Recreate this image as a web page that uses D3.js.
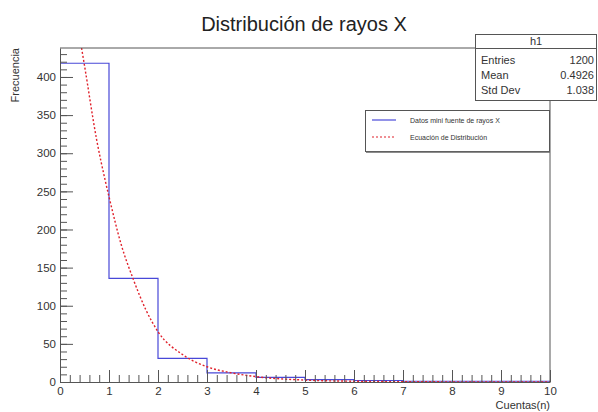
<!DOCTYPE html>
<html>
<head>
<meta charset="utf-8">
<script src="https://cdn.jsdelivr.net/npm/d3@7"></script>
<style>
  body { margin: 0; background: #fff; }
  svg { display: block; font-family: "Liberation Sans", Arial, sans-serif; }
</style>
</head>
<body>
<div id="chart"></div>
<script>
// Histogram bins (lower edges) and counts
const binEdges = [0, 1, 2, 3, 4, 5, 6, 7, 8, 9, 10];
const binCounts = [418, 136, 31, 12, 6, 3, 2, 1, 1, 1];

// Fitted distribution, points
const curveX = [0.44, 0.5, 0.75, 0.92, 1, 1.25, 1.5, 1.75, 2, 2.5, 3, 3.5, 4, 5, 6, 7, 8, 9, 10];
const curveY = [438, 415, 317, 265, 243, 180, 134, 95, 66, 36, 20, 12, 7, 2.5, 1, 0.4, 0.2, 0.1, 0.05];

// Tick values
const yMajor = [0, 50, 100, 150, 200, 250, 300, 350, 400];
const xMajor = [0, 1, 2, 3, 4, 5, 6, 7, 8, 9, 10];

// Stats box and legend text
const statsTitle = "h1";
const statsRows = [["Entries", "1200"], ["Mean", "0.4926"], ["Std Dev", "1.038"]];
const legendLabels = ["Datos mini fuente de rayos X", "Ecuación de Distribución"];

const W = 598, H = 412;
const frame = { left: 60, right: 550, top: 48, bottom: 382 };
const textCol = "#333";

const svg = d3.select("#chart").append("svg")
    .attr("width", W)
    .attr("height", H);

// Scales
const x = d3.scaleLinear().domain([0, 10]).range([frame.left, frame.right]);
const y = d3.scaleLinear().domain([0, 438]).range([frame.bottom, frame.top]);

// Clip to frame
svg.append("clipPath").attr("id", "clip")
    .append("rect")
    .attr("x", frame.left).attr("y", frame.top)
    .attr("width", frame.right - frame.left)
    .attr("height", frame.bottom - frame.top);

// Title
svg.append("text")
    .attr("x", 304).attr("y", 31)
    .attr("text-anchor", "middle")
    .attr("font-size", 20)
    .attr("fill", "#222")
    .text("Distribución de rayos X");

// Histogram outline
const histPts = [[binEdges[0], 0]];
binCounts.forEach((c, i) => {
    histPts.push([binEdges[i], c], [binEdges[i + 1], c]);
});
histPts.push([binEdges[binEdges.length - 1], 0]);

svg.append("path")
    .datum(histPts)
    .attr("clip-path", "url(#clip)")
    .attr("fill", "none")
    .attr("stroke", "#4848d8")
    .attr("stroke-width", 1.2)
    .attr("d", d3.line().x(d => x(d[0])).y(d => y(d[1])));

// Distribution curve
const curvePts = curveX.map((v, i) => [v, curveY[i]]);
svg.append("path")
    .datum(curvePts)
    .attr("clip-path", "url(#clip)")
    .attr("fill", "none")
    .attr("stroke", "#e0202a")
    .attr("stroke-width", 1.4)
    .attr("stroke-dasharray", "2,2")
    .attr("d", d3.line().curve(d3.curveMonotoneX).x(d => x(d[0])).y(d => y(d[1])));

// Frame (top and right)
svg.append("path")
    .attr("fill", "none")
    .attr("stroke", "#555")
    .attr("stroke-width", 1)
    .attr("d", `M${frame.left},${frame.top}H${frame.right}V${frame.bottom}`);

// Y axis: ticks point inward
const yAxis = svg.append("g")
    .attr("transform", `translate(${frame.left},0)`)
    .call(d3.axisLeft(y).tickValues(yMajor).tickSizeInner(-13).tickSizeOuter(0).tickPadding(4));
svg.append("g")
    .attr("transform", `translate(${frame.left},0)`)
    .call(d3.axisLeft(y).tickValues(d3.range(0, 438, 10)).tickSize(-7).tickFormat(""))
    .call(g => g.select(".domain").remove());

// X axis
const xAxis = svg.append("g")
    .attr("transform", `translate(0,${frame.bottom})`)
    .call(d3.axisBottom(x).tickValues(xMajor).tickSizeInner(-12).tickSizeOuter(0).tickPadding(5));
svg.append("g")
    .attr("transform", `translate(0,${frame.bottom})`)
    .call(d3.axisBottom(x).tickValues(d3.range(0, 10.01, 0.2)).tickSize(-7).tickFormat(""))
    .call(g => g.select(".domain").remove());

svg.selectAll(".tick line, .domain").attr("stroke", "#555");
svg.selectAll(".tick text")
    .attr("font-size", 11.5)
    .attr("font-family", "Liberation Sans, Arial, sans-serif")
    .attr("fill", textCol);

// Axis titles (ROOT style: right / top aligned)
svg.append("text")
    .attr("x", frame.right).attr("y", 409)
    .attr("text-anchor", "end")
    .attr("font-size", 11)
    .attr("fill", textCol)
    .text("Cuentas(n)");

svg.append("text")
    .attr("transform", `translate(19,${frame.top}) rotate(-90)`)
    .attr("text-anchor", "end")
    .attr("font-size", 11)
    .attr("fill", textCol)
    .text("Frecuencia");

// Stats box
const stats = svg.append("g");
stats.append("rect")
    .attr("x", 475.5).attr("y", 34.5)
    .attr("width", 121).attr("height", 66)
    .attr("fill", "#fff")
    .attr("stroke", "#555");
stats.append("line")
    .attr("x1", 475.5).attr("x2", 596.5)
    .attr("y1", 48.5).attr("y2", 48.5)
    .attr("stroke", "#555");
stats.append("text")
    .attr("x", 536).attr("y", 45)
    .attr("text-anchor", "middle")
    .attr("font-size", 11)
    .attr("fill", textCol)
    .text(statsTitle);
statsRows.forEach((r, i) => {
    const ty = 64 + i * 15;
    stats.append("text")
        .attr("x", 481).attr("y", ty)
        .attr("font-size", 11)
        .attr("fill", textCol)
        .text(r[0]);
    stats.append("text")
        .attr("x", 594).attr("y", ty)
        .attr("text-anchor", "end")
        .attr("font-size", 11)
        .attr("fill", textCol)
        .text(r[1]);
});

// Legend
const legend = svg.append("g");
legend.append("rect")
    .attr("x", 365.5).attr("y", 110.5)
    .attr("width", 184).attr("height", 41)
    .attr("fill", "#fff")
    .attr("stroke", "#555");
legend.append("line")
    .attr("x1", 366).attr("x2", 550)
    .attr("y1", 152).attr("y2", 152)
    .attr("stroke", "#666")
    .attr("stroke-width", 1.5);

const legendStyles = [
    { stroke: "#4848d8", dash: null },
    { stroke: "#e0202a", dash: "2,2" }
];
legendLabels.forEach((lab, i) => {
    const ly = 120 + i * 17;
    legend.append("line")
        .attr("x1", 372).attr("x2", 396)
        .attr("y1", ly).attr("y2", ly)
        .attr("stroke", legendStyles[i].stroke)
        .attr("stroke-width", 1.2)
        .attr("stroke-dasharray", legendStyles[i].dash);
    legend.append("text")
        .attr("x", 410).attr("y", ly + 2.5)
        .attr("font-size", 7)
        .attr("fill", textCol)
        .text(lab);
});
</script>
</body>
</html>
